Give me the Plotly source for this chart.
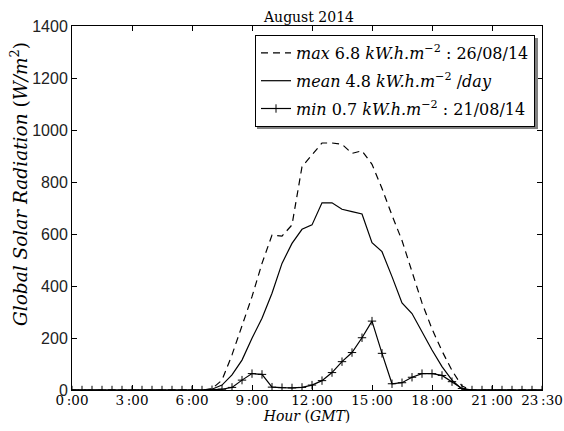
import plotly.graph_objects as go

# half-hour time stamps (hours, GMT)
hours = [i * 0.5 for i in range(48)]

zeros14 = [0] * 14
zeros8 = [0] * 8

max_vals = zeros14 + [5, 38, 135, 244, 359, 487, 596, 592, 635, 859, 904, 950, 950, 945,
                      910, 920, 868, 775, 672, 575, 455, 335, 235, 150, 75, 15] + zeros8
mean_vals = zeros14 + [3, 19, 58, 115, 199, 276, 372, 487, 564, 618, 635, 720, 720, 695,
                       686, 677, 567, 532, 436, 335, 294, 224, 154, 90, 38, 3] + zeros8
min_vals = zeros14 + [1, 3, 10, 38, 63, 60, 11, 9, 8, 10, 19, 36, 67, 109,
                      144, 201, 265, 141, 24, 28, 49, 63, 63, 56, 32, 6] + zeros8

tick_vals = [0, 3, 6, 9, 12, 15, 18, 21, 23.5]
tick_text = ["0\u2009:00", "3\u2009:00", "6\u2009:00", "9\u2009:00", "12\u2009:00",
             "15\u2009:00", "18\u2009:00", "21\u2009:00", "23\u2009:30"]

labels = [
    "<i>max</i> 6.8 <i>kW.h.m</i><sup>\u22122</sup> : 26/08/14",
    "<i>mean</i> 4.8 <i>kW.h.m</i><sup>\u22122</sup> /<i>day</i>",
    "<i>min</i> 0.7 <i>kW.h.m</i><sup>\u22122</sup> : 21/08/14",
]

fig = go.Figure()
fig.add_trace(go.Scatter(x=hours, y=max_vals, mode="lines", name=labels[0], legendgroup="a",
                         line=dict(color="black", width=1.2, dash="7px,5px")))
fig.add_trace(go.Scatter(x=hours, y=mean_vals, mode="lines", name=labels[1], legendgroup="b",
                         line=dict(color="black", width=1.2)))
fig.add_trace(go.Scatter(x=hours, y=min_vals, mode="lines+markers", name=labels[2], legendgroup="c",
                         line=dict(color="black", width=1.2),
                         marker=dict(symbol="cross-thin", size=6,
                                     line=dict(color="black", width=1)),
                         cliponaxis=True))

W, H = 564, 431
ml, mr, mt, mb = 72, 22, 26, 41
pw, ph = W - ml - mr, H - mt - mb

def px_x(x):
    return (x - ml) / pw

def px_y(y):
    return (H - mb - y) / ph

# legend shadow
fig.add_shape(type="rect", xref="paper", yref="paper",
              x0=px_x(257), x1=px_x(538), y0=px_y(129), y1=px_y(38),
              fillcolor="#808080", line=dict(width=0), layer="above")

# y-axis label
fig.add_annotation(text="<i>Global Solar Radiation</i> (<i>W/m</i><sup>2</sup>)",
                   xref="paper", yref="paper", x=px_x(19), y=px_y(184),
                   xanchor="center", yanchor="middle", textangle=-90, showarrow=False,
                   font=dict(family="DejaVu Serif", size=18.5, color="black"))

fig.update_layout(
    width=W, height=H,
    margin=dict(l=ml, r=mr, t=mt, b=mb, autoexpand=False),
    paper_bgcolor="white", plot_bgcolor="white",
    title=dict(text="August 2014", x=309 / W, xanchor="center", y=1 - 17 / H, yanchor="middle",
               font=dict(family="DejaVu Serif", size=14, color="black")),
    showlegend=True,
    legend=dict(x=px_x(535), xanchor="right", y=px_y(35), yanchor="top",
                bgcolor="white", bordercolor="black", borderwidth=1,
                font=dict(family="DejaVu Serif", size=16, color="black"),
                tracegroupgap=4),
    xaxis=dict(range=[0, 23.5], tickvals=tick_vals, ticktext=tick_text, automargin=False,
               ticks="inside", ticklen=5, tickcolor="black", mirror="ticks",
               showline=True, linecolor="black", linewidth=1, showgrid=False, zeroline=False,
               tickfont=dict(family="DejaVu Serif", size=13.5, color="black"),
               ticklabelstandoff=-2,
               title=dict(text="<i>Hour</i> (<i>GMT</i>)", standoff=2,
                          font=dict(family="DejaVu Serif", size=14, color="black"))),
    yaxis=dict(range=[0, 1400], tickvals=[0, 200, 400, 600, 800, 1000, 1200, 1400], automargin=False,
               ticks="inside", ticklen=5, tickcolor="black", mirror="ticks",
               showline=True, linecolor="black", linewidth=1, showgrid=False, zeroline=False,
               tickfont=dict(family="Liberation Sans", size=16, color="#222222")),
)

fig.write_html("out.html")
